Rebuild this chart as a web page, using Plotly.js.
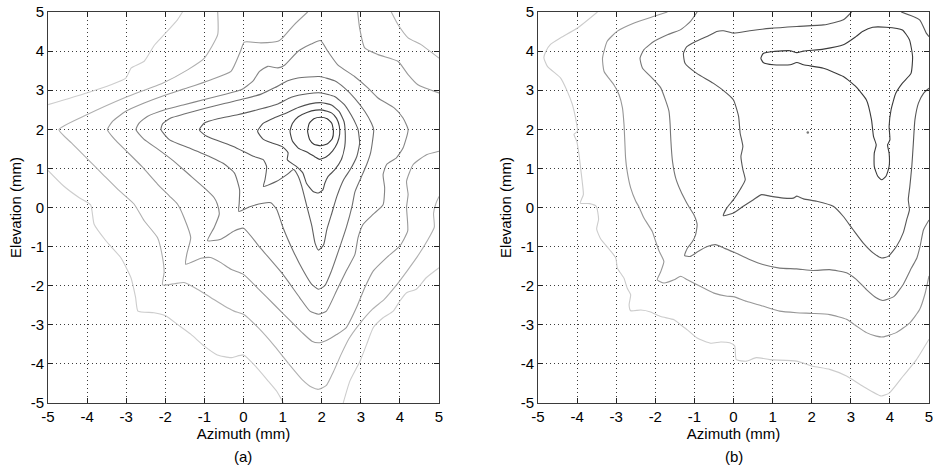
<!DOCTYPE html>
<html>
<head>
<meta charset="utf-8">
<script src="https://cdn.plot.ly/plotly-3.0.1.min.js"></script>
<style>html,body{margin:0;padding:0;background:#fff;}#chart{width:933px;height:466px;}</style>
</head>
<body>
<div id="chart"></div>
<script>
// ---------- tick values / labels ----------
const tickVals = [-5, -4, -3, -2, -1, 0, 1, 2, 3, 4, 5];
const tickText = ['-5', '-4', '-3', '-2', '-1', '0', '1', '2', '3', '4', '5'];

// ---------- panel (a): contour lines, [azimuth, elevation] in mm ----------
const a1 = [[1.64,1.95],[1.68,2.15],[1.80,2.27],[1.97,2.31],[2.14,2.27],[2.26,2.15],[2.30,1.95],[2.27,1.76],[2.15,1.63],[1.97,1.58],[1.80,1.62],[1.69,1.74],[1.64,1.95]];
const a2 = [[1.19,1.95],[1.25,2.15],[1.40,2.32],[1.62,2.43],[1.85,2.49],[2.03,2.49],[2.25,2.42],[2.38,2.28],[2.45,2.08],[2.46,1.88],[2.40,1.65],[2.28,1.45],[2.12,1.30],[1.95,1.23],[1.82,1.30],[1.62,1.42],[1.40,1.52],[1.25,1.70],[1.19,1.95]];
const a3 = [[0.36,1.95],[0.50,2.15],[0.80,2.30],[1.10,2.42],[1.40,2.56],[1.70,2.65],[2.00,2.68],[2.25,2.62],[2.45,2.45],[2.57,2.20],[2.60,1.95],[2.59,1.56],[2.50,1.22],[2.33,0.96],[2.16,0.79],[2.08,0.62],[2.03,0.45],[1.91,0.37],[1.78,0.41],[1.61,0.62],[1.52,0.88],[1.35,1.05],[1.12,1.22],[1.14,1.40],[1.00,1.55],[0.70,1.66],[0.50,1.75],[0.36,1.95]];
const a4 = [[-1.13,1.99],[-1.00,2.16],[-0.66,2.27],[-0.15,2.37],[0.36,2.50],[0.88,2.65],[1.22,2.82],[1.64,2.91],[1.99,2.93],[2.33,2.84],[2.58,2.63],[2.75,2.37],[2.88,2.12],[2.93,1.99],[2.97,1.65],[2.90,1.31],[2.73,0.97],[2.56,0.71],[2.39,0.29],[2.26,-0.14],[2.13,-0.57],[2.05,-0.95],[1.92,-1.09],[1.83,-0.91],[1.75,-0.48],[1.62,0.03],[1.49,0.54],[1.40,0.80],[1.28,0.97],[1.11,0.84],[0.85,0.67],[0.51,0.54],[0.55,0.71],[0.59,1.05],[0.51,1.22],[0.25,1.31],[-0.26,1.56],[-0.94,1.82],[-1.13,1.99]];
const a5 = [[-2.11,1.99],[-2.07,2.14],[-1.86,2.29],[-1.52,2.39],[-1.00,2.53],[-0.49,2.66],[0.02,2.78],[0.45,2.90],[0.79,3.06],[1.13,3.24],[1.39,3.31],[1.94,3.35],[2.33,3.24],[2.58,3.06],[2.84,2.80],[3.10,2.46],[3.27,2.16],[3.33,1.99],[3.30,1.70],[3.25,1.40],[3.15,1.10],[3.00,0.75],[2.85,0.40],[2.78,0.05],[2.63,-0.51],[2.46,-1.02],[2.25,-1.62],[2.08,-2.00],[1.92,-2.09],[1.74,-1.96],[1.53,-1.62],[1.27,-1.11],[1.01,-0.51],[0.85,-0.05],[0.70,0.12],[0.50,0.11],[0.16,0.02],[-0.12,-0.10],[-0.11,0.11],[-0.10,0.45],[-0.23,0.88],[-0.52,1.13],[-0.86,1.30],[-1.38,1.52],[-1.89,1.73],[-2.11,1.99]];
const a6 = [[-2.75,1.99],[-2.67,2.16],[-2.46,2.33],[-2.01,2.50],[-1.52,2.63],[-1.00,2.76],[-0.49,2.89],[-0.06,3.01],[0.24,3.23],[0.41,3.48],[0.62,3.61],[0.88,3.57],[1.05,3.64],[1.39,3.99],[1.73,4.18],[1.97,4.27],[2.16,3.99],[2.41,3.65],[2.84,3.35],[3.18,3.06],[3.44,2.80],[3.86,2.54],[4.08,2.29],[4.21,1.99],[4.08,1.52],[3.91,1.27],[3.66,1.10],[3.57,0.84],[3.61,0.50],[3.57,0.07],[3.32,-0.17],[3.06,-0.43],[2.93,-0.77],[2.85,-1.20],[2.63,-1.62],[2.38,-2.13],[2.12,-2.65],[1.92,-2.73],[1.70,-2.65],[1.44,-2.31],[1.01,-1.71],[0.42,-1.02],[0.00,-0.53],[-0.24,-0.60],[-0.58,-0.81],[-0.92,-0.85],[-0.75,-0.51],[-0.62,-0.17],[-0.67,0.09],[-0.75,0.25],[-1.00,0.50],[-1.40,0.85],[-1.80,1.20],[-2.20,1.50],[-2.55,1.75],[-2.75,1.99]];
const a7 = [[1.64,5.00],[1.30,4.68],[1.00,4.34],[0.88,4.25],[0.45,4.21],[0.02,4.23],[-0.08,3.99],[-0.32,3.48],[-0.83,3.27],[-1.43,3.06],[-2.01,2.87],[-2.54,2.67],[-3.01,2.46],[-3.35,2.20],[-3.48,1.99],[-3.30,1.75],[-3.00,1.45],[-2.60,1.05],[-2.20,0.60],[-1.90,0.30],[-1.69,0.09],[-1.52,-0.26],[-1.35,-0.77],[-1.45,-1.19],[-1.48,-1.45],[-1.09,-1.30],[-0.84,-1.28],[-0.58,-1.41],[-0.32,-1.58],[0.00,-1.71],[0.40,-2.10],[0.80,-2.50],[1.20,-2.90],[1.50,-3.20],[1.75,-3.42],[1.92,-3.46],[2.12,-3.40],[2.38,-3.25],[2.63,-3.07],[2.89,-2.56],[3.10,-2.05],[3.32,-1.62],[3.66,-1.28],[4.00,-0.98],[4.20,-0.60],[4.17,0.01],[4.21,0.33],[4.17,0.67],[4.34,1.10],[4.68,1.35],[5.00,1.44]];
const a7b = [[2.92,5.00],[2.97,4.59],[3.10,4.08],[3.44,3.91],[3.95,3.74],[4.21,3.40],[4.46,3.14],[5.00,2.93]];
const a8 = [[-0.66,5.00],[-0.66,4.42],[-1.00,3.82],[-1.43,3.52],[-2.07,3.18],[-3.01,2.82],[-4.01,2.37],[-4.72,1.99],[-4.40,1.65],[-4.00,1.25],[-3.60,0.85],[-3.20,0.45],[-2.80,0.09],[-2.54,-0.34],[-2.20,-0.77],[-2.07,-1.28],[-2.03,-1.66],[-2.07,-1.98],[-1.77,-1.95],[-1.52,-1.92],[-1.18,-2.09],[-0.84,-2.30],[-0.49,-2.52],[-0.24,-2.65],[0.00,-2.73],[0.40,-3.10],[0.80,-3.55],[1.20,-4.05],[1.50,-4.40],[1.75,-4.60],[1.92,-4.65],[2.12,-4.55],[2.30,-4.20],[2.50,-3.75],[2.70,-3.35],[2.95,-3.00],[3.30,-2.60],[3.60,-2.35],[3.90,-2.00],[4.20,-1.60],[4.45,-1.25],[4.70,-0.85],[4.88,-0.50],[4.86,-0.15],[4.92,0.10],[5.00,0.28]];
const a8b = [[3.78,5.00],[3.95,4.68],[4.21,4.34],[4.55,4.16],[5.00,3.82]];
const a9 = [[-5.00,2.63],[-4.01,2.93],[-3.39,3.14],[-3.01,3.31],[-2.87,3.57],[-2.54,3.74],[-2.28,4.15],[-2.03,4.42],[-1.69,4.80],[-1.56,5.00]];
const a9b = [[-5.00,0.95],[-4.60,0.55],[-4.20,0.25],[-3.91,0.07],[-3.82,-0.43],[-3.52,-0.85],[-3.14,-1.28],[-2.88,-1.79],[-2.76,-2.30],[-2.70,-2.65],[-2.29,-2.69],[-1.99,-2.77],[-1.69,-2.99],[-1.35,-3.24],[-1.01,-3.54],[-0.67,-3.77],[-0.32,-3.84],[0.00,-3.77],[0.30,-4.05],[0.60,-4.40],[0.85,-4.70],[1.02,-5.00]];
const a9c = [[2.55,-5.00],[2.72,-4.44],[2.98,-3.93],[3.15,-3.50],[3.32,-3.07],[3.57,-2.82],[3.83,-2.65],[4.00,-2.39],[4.17,-2.18],[4.42,-2.09],[4.68,-1.79],[5.00,-1.54]];

// ---------- panel (b): contour lines ----------
const b1 = [[0.70,3.82],[0.76,3.94],[1.02,3.99],[1.45,4.01],[1.62,3.96],[1.79,4.00],[2.30,4.05],[2.81,4.16],[3.13,4.37],[3.30,4.50],[3.56,4.61],[3.90,4.61],[4.32,4.54],[4.50,4.29],[4.58,3.86],[4.54,3.43],[4.32,3.18],[4.15,2.92],[4.03,2.50],[3.98,2.07],[4.00,1.73],[3.94,1.60],[3.98,1.39],[3.98,1.05],[3.90,0.80],[3.79,0.71],[3.69,0.80],[3.60,1.05],[3.60,1.39],[3.65,1.60],[3.58,1.82],[3.53,2.24],[3.40,2.75],[3.13,3.09],[2.81,3.35],[2.30,3.56],[1.79,3.65],[1.62,3.71],[1.45,3.65],[1.02,3.65],[0.76,3.71],[0.70,3.82]];
const b2 = [[3.02,5.00],[2.81,4.80],[2.30,4.67],[1.62,4.63],[0.93,4.58],[0.42,4.52],[0.00,4.46],[-0.26,4.52],[-0.43,4.50],[-0.60,4.41],[-0.98,4.24],[-1.20,4.11],[-1.28,3.94],[-1.24,3.69],[-0.94,3.43],[-0.52,3.18],[-0.17,2.92],[0.00,2.75],[0.13,2.33],[0.17,1.90],[0.24,1.56],[0.19,1.31],[0.24,0.97],[0.30,0.71],[0.17,0.46],[0.00,0.20],[-0.17,-0.01],[-0.26,-0.21],[0.00,-0.14],[0.25,0.03],[0.51,0.20],[0.72,0.33],[0.93,0.29],[1.28,0.24],[1.53,0.24],[1.62,0.29],[1.79,0.22],[2.13,0.16],[2.55,0.03],[2.81,-0.23],[3.06,-0.57],[3.32,-0.91],[3.57,-1.16],[3.79,-1.29],[3.96,-1.25],[4.17,-0.99],[4.34,-0.65],[4.43,-0.31],[4.50,-0.06],[4.47,0.20],[4.51,0.54],[4.56,1.05],[4.60,1.65],[4.64,2.24],[4.73,2.67],[4.86,2.92],[5.00,3.05]];
const b2b = [[4.29,5.00],[4.76,4.80],[4.93,4.46],[5.00,4.37]];
const b3 = [[-0.93,5.00],[-1.10,4.76],[-1.35,4.55],[-1.69,4.42],[-2.03,4.25],[-2.29,4.04],[-2.39,3.82],[-2.33,3.57],[-2.08,3.31],[-1.86,3.06],[-1.73,2.72],[-1.65,2.46],[-1.62,2.12],[-1.61,1.87],[-1.59,1.52],[-1.56,1.18],[-1.48,0.76],[-1.35,0.42],[-1.22,0.16],[-1.14,0.02],[-1.01,-0.19],[-0.93,-0.44],[-0.97,-0.70],[-1.05,-0.87],[-1.18,-1.04],[-1.25,-1.23],[-1.10,-1.25],[-0.93,-1.14],[-0.67,-1.00],[-0.46,-0.95],[-0.24,-1.04],[0.00,-1.14],[0.41,-1.33],[0.75,-1.46],[1.18,-1.55],[1.61,-1.57],[2.03,-1.61],[2.46,-1.59],[2.89,-1.67],[3.14,-1.84],[3.40,-2.10],[3.65,-2.31],[3.82,-2.38],[4.10,-2.28],[4.34,-1.97],[4.55,-1.55],[4.69,-1.29],[4.77,-1.00],[4.86,-0.57],[5.00,-0.32]];
const b4 = [[-1.69,5.00],[-2.03,4.89],[-2.54,4.72],[-2.97,4.51],[-3.23,4.25],[-3.35,3.82],[-3.31,3.48],[-3.06,3.14],[-2.93,2.89],[-2.84,2.55],[-2.80,2.12],[-2.78,1.70],[-2.76,1.27],[-2.72,0.93],[-2.63,0.50],[-2.50,0.16],[-2.42,0.02],[-2.29,-0.27],[-2.08,-0.61],[-1.99,-0.87],[-1.90,-1.12],[-1.78,-1.38],[-1.86,-1.64],[-1.95,-1.85],[-1.78,-1.93],[-1.52,-1.85],[-1.35,-1.76],[-1.18,-1.85],[-0.84,-2.02],[-0.50,-2.19],[-0.16,-2.27],[0.00,-2.28],[0.33,-2.40],[0.75,-2.52],[1.18,-2.65],[1.61,-2.69],[2.03,-2.71],[2.46,-2.74],[2.89,-2.86],[3.14,-3.03],[3.40,-3.20],[3.65,-3.29],[3.82,-3.31],[4.16,-3.20],[4.51,-2.95],[4.76,-2.61],[4.90,-2.20],[5.00,-1.75]];
const b5 = [[-3.48,5.00],[-3.99,4.59],[-4.42,4.34],[-4.68,4.17],[-4.80,3.99],[-4.85,3.83],[-4.76,3.61],[-4.42,3.31],[-4.25,2.97],[-4.12,2.63],[-4.04,2.29],[-3.99,1.95],[-4.08,1.87],[-4.01,1.70],[-3.95,1.35],[-3.91,1.01],[-3.87,0.67],[-3.84,0.33],[-3.92,0.11],[-3.68,0.10],[-3.51,0.03],[-3.45,-0.30],[-3.50,-0.55],[-3.40,-0.80],[-3.17,-1.08],[-3.01,-1.29],[-2.97,-1.55],[-2.80,-1.81],[-2.72,-2.06],[-2.63,-2.23],[-2.67,-2.49],[-2.63,-2.64],[-2.37,-2.62],[-2.12,-2.67],[-1.86,-2.79],[-1.52,-2.87],[-1.35,-3.00],[-1.18,-3.13],[-0.93,-3.34],[-0.58,-3.47],[-0.33,-3.44],[-0.10,-3.46],[0.03,-3.54],[0.07,-3.89],[0.33,-3.93],[0.58,-3.84],[0.93,-3.89],[1.61,-3.93],[2.03,-4.06],[2.46,-4.14],[2.89,-4.31],[3.31,-4.57],[3.78,-4.82],[3.99,-4.74],[4.34,-4.31],[4.68,-3.89],[5.00,-3.37]];
const bDot = [[1.90,1.92]];

// ---------- grey level of each contour (dark = inner) ----------
const aColors = ['#333333','#414141','#4f4f4f','#5f5f5f','#707070','#858585','#9a9a9a','#b0b0b0','#cdcdcd'];
const bColors = ['#3a3a3a','#575757','#767676','#979797','#cccccc'];

function line(points, color, xa, ya) {
  return {
    x: points.map(p => p[0]), y: points.map(p => p[1]),
    xaxis: xa, yaxis: ya, type: 'scatter', mode: 'lines',
    line: {color: color, width: 1.1, shape: 'spline', smoothing: 0.5},
    hoverinfo: 'skip', showlegend: false
  };
}

const traces = [
  line(a9, aColors[8], 'x', 'y'), line(a9b, aColors[8], 'x', 'y'), line(a9c, aColors[8], 'x', 'y'),
  line(a8, aColors[7], 'x', 'y'), line(a8b, aColors[7], 'x', 'y'),
  line(a7, aColors[6], 'x', 'y'), line(a7b, aColors[6], 'x', 'y'),
  line(a6, aColors[5], 'x', 'y'), line(a5, aColors[4], 'x', 'y'),
  line(a4, aColors[3], 'x', 'y'), line(a3, aColors[2], 'x', 'y'),
  line(a2, aColors[1], 'x', 'y'), line(a1, aColors[0], 'x', 'y'),
  line(b5, bColors[4], 'x2', 'y2'), line(b4, bColors[3], 'x2', 'y2'),
  line(b3, bColors[2], 'x2', 'y2'), line(b2, bColors[1], 'x2', 'y2'), line(b2b, bColors[1], 'x2', 'y2'),
  line(b1, bColors[0], 'x2', 'y2'),
  {x: bDot.map(p => p[0]), y: bDot.map(p => p[1]), xaxis: 'x2', yaxis: 'y2', type: 'scatter', mode: 'markers',
   marker: {size: 2.5, color: '#777777'}, hoverinfo: 'skip', showlegend: false}
];

const FONT = 'Liberation Sans, Arial, Helvetica, sans-serif';
function axis(extra) {
  return Object.assign({
    range: [-5, 5], tickmode: 'array', tickvals: tickVals, ticktext: tickText,
    ticks: 'inside', ticklen: 5, tickwidth: 1, tickcolor: '#222',
    showline: true, linecolor: '#3a3a3a', linewidth: 1, mirror: 'ticks',
    showgrid: true, gridcolor: '#3c3c3c', griddash: '1px,3px', gridwidth: 1,
    zeroline: false, fixedrange: true, automargin: false, ticklabeloverflow: 'allow',
    tickfont: {family: FONT, size: 15, color: '#000'}
  }, extra);
}
const yTop = 1 - 12 / 466, yBot = 1 - 403 / 466;
const layout = {
  width: 933, height: 466,
  margin: {l: 0, r: 0, t: 0, b: 0},
  paper_bgcolor: '#ffffff', plot_bgcolor: '#ffffff',
  font: {family: FONT, size: 15, color: '#000'},
  xaxis: axis({domain: [48 / 933, 439 / 933], anchor: 'y',
    title: {text: 'Azimuth (mm)', font: {family: FONT, size: 15}, standoff: 1}}),
  yaxis: axis({domain: [yBot, yTop], anchor: 'x',
    title: {text: 'Elevation (mm)', font: {family: FONT, size: 15}, standoff: 5}}),
  xaxis2: axis({domain: [538 / 933, 929 / 933], anchor: 'y2',
    title: {text: 'Azimuth (mm)', font: {family: FONT, size: 15}, standoff: 1}}),
  yaxis2: axis({domain: [yBot, yTop], anchor: 'x2',
    title: {text: 'Elevation (mm)', font: {family: FONT, size: 15}, standoff: 5}}),
  annotations: [
    {text: '(a)', xref: 'paper', yref: 'paper', x: 243.5 / 933, y: 1 - 456 / 466, showarrow: false,
     font: {family: FONT, size: 15, color: '#000'}, xanchor: 'center', yanchor: 'middle'},
    {text: '(b)', xref: 'paper', yref: 'paper', x: 733.5 / 933, y: 1 - 456 / 466, showarrow: false,
     font: {family: FONT, size: 15, color: '#000'}, xanchor: 'center', yanchor: 'middle'}
  ]
};
Plotly.newPlot('chart', traces, layout, {staticPlot: true, displayModeBar: false});
</script>
</body>
</html>
